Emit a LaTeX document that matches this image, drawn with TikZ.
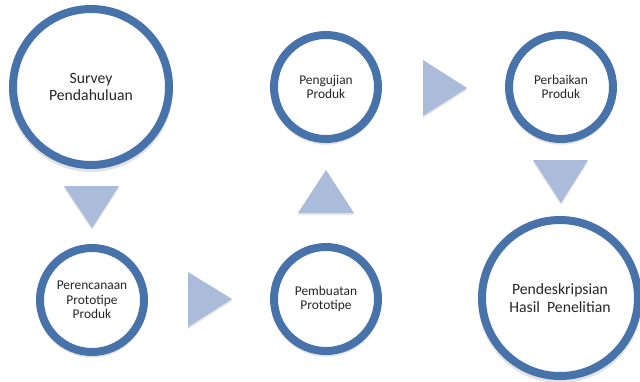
\documentclass[tikz,border=0pt]{standalone}
\usepackage{fontspec}
\setmainfont{Carlito}
\usetikzlibrary{shadows}

\definecolor{ringblue}{RGB}{71,115,170}
\definecolor{pointerblue}{RGB}{171,188,218}

\tikzset{
  stage/.style={circle, draw=ringblue, line width=8pt, fill=white, align=center,
    text=black!85, inner sep=0pt,
    drop shadow={opacity=.22, shadow xshift=0pt, shadow yshift=-3pt, shadow scale=1.05}},
  stagesmall/.style={stage, minimum size=104pt, font=\fontsize{13.4}{14.5}\selectfont},
  stagebig/.style={stage, minimum size=156pt, font=\fontsize{15.7}{17.5}\selectfont},
  pointer/.style={fill=pointerblue,
    drop shadow={opacity=.2, shadow xshift=0pt, shadow yshift=-2pt}}
}

\begin{document}
\begin{tikzpicture}[x=1pt,y=-1pt]
\useasboundingbox (0,0) rectangle (640,381);

% stages
\node[stagebig] (survey) at (91,87) {Survey\\Pendahuluan};
\node[stagesmall] (rencana) at (92,300) {Perencanaan\\Prototipe\\Produk};
\node[stagesmall] (buat) at (326,299) {Pembuatan\\Prototipe};
\node[stagesmall] (uji) at (326,87) {Pengujian\\Produk};
\node[stagesmall] (baik) at (561,87) {Perbaikan\\Produk};
\node[stagebig] (deskripsi) at (560,298) {Pendeskripsian\\Hasil~ Penelitian};

% pointers
\fill[pointer] (64,186) -- (119,186) -- (92,228) -- cycle;
\fill[pointer] (188,272) -- (232,299) -- (188,327) -- cycle;
\fill[pointer] (298,213) -- (326,170) -- (354,213) -- cycle;
\fill[pointer] (423,60) -- (467,88) -- (423,116) -- cycle;
\fill[pointer] (533,160) -- (588,160) -- (561,203) -- cycle;

\end{tikzpicture}
\end{document}
